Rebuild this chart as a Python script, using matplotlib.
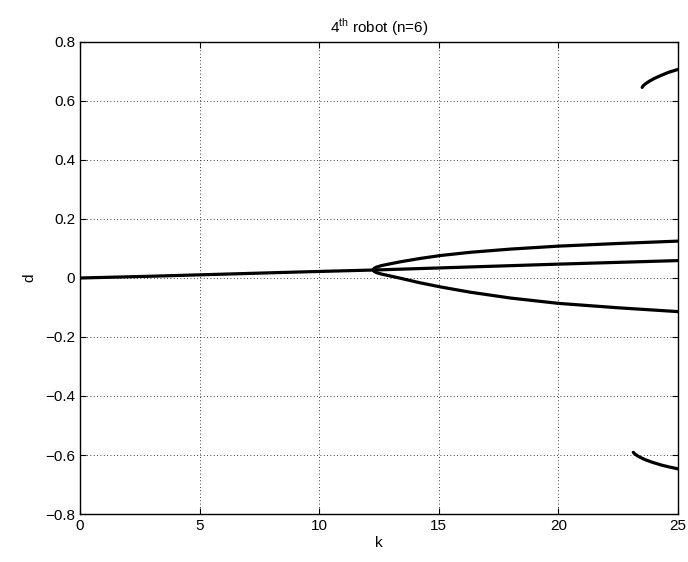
import matplotlib
matplotlib.use("Agg")
import matplotlib.pyplot as plt

plt.rcParams['font.family'] = ['Liberation Sans', 'DejaVu Sans']

# Data
k_pre = [0, 3, 6, 9, 12.26]
d_pre = [0.0, 0.006, 0.013, 0.020, 0.027]

k_branch = [12.26, 12.3, 12.4, 12.6, 12.9, 13.4, 14.2, 15.05, 16.3, 18, 20, 22.5, 25]
d_upper = [0.027, 0.033, 0.037, 0.042, 0.047, 0.055, 0.066, 0.076, 0.087, 0.098, 0.108, 0.117, 0.125]
d_lower = [0.027, 0.022, 0.018, 0.0135, 0.008, -0.001, -0.016, -0.030, -0.048, -0.068, -0.086, -0.101, -0.114]

k_mid = [12.26, 15, 20, 25]
d_mid = [0.027, 0.034, 0.047, 0.059]

k_top = [23.5, 23.55, 23.65, 23.8, 24.0, 24.3, 24.6, 25]
d_top = [0.646, 0.652, 0.659, 0.667, 0.676, 0.687, 0.697, 0.707]

k_bot = [23.13, 23.2, 23.35, 23.6, 23.9, 24.3, 24.6, 25]
d_bot = [-0.591, -0.597, -0.605, -0.615, -0.624, -0.634, -0.640, -0.647]

fig = plt.figure(figsize=(6.88, 5.62), dpi=100)
ax = fig.add_axes([0.1163, 0.0854, 0.8692, 0.8399])

lw = 2.3
for kx, dy in [(k_pre, d_pre), (k_branch, d_upper), (k_branch, d_lower),
               (k_mid, d_mid), (k_top, d_top), (k_bot, d_bot)]:
    ax.plot(kx, dy, color='black', lw=lw, solid_capstyle='round',
            solid_joinstyle='round')

ax.set_xlim(0, 25)
ax.set_ylim(-0.8, 0.8)
ax.set_xticks([0, 5, 10, 15, 20, 25])
ax.set_yticks([-0.8, -0.6, -0.4, -0.2, 0, 0.2, 0.4, 0.6, 0.8])
ax.set_yticklabels(['\u22120.8', '\u22120.6', '\u22120.4', '\u22120.2', '0', '0.2', '0.4', '0.6', '0.8'])
ax.grid(True, color='black', linestyle=(0, (1, 3)), lw=0.6)
ax.tick_params(direction='in', top=True, right=True, labelsize=11, length=4)
for s in ax.spines.values():
    s.set_linewidth(1.0)
ax.set_xlabel('k', fontsize=11, labelpad=2)
ax.set_ylabel('d', fontsize=11, labelpad=6)
ax.set_title('4$^{\\mathregular{th}}$ robot (n=6)', fontsize=11, pad=7)

fig.savefig('out.png', dpi=100)
